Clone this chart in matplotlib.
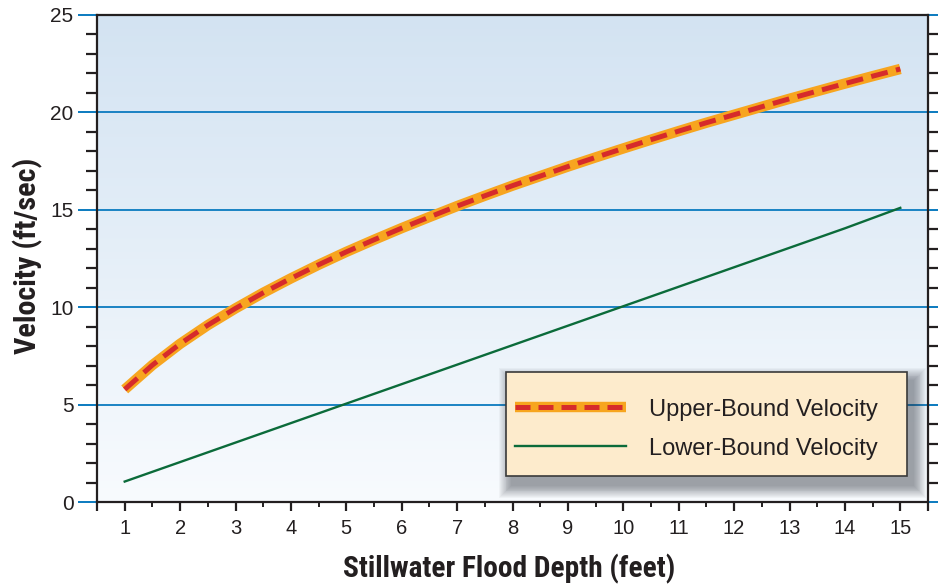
import matplotlib
matplotlib.use("Agg")
import matplotlib.pyplot as plt
import numpy as np
from matplotlib.lines import Line2D
from matplotlib.patches import Rectangle
from matplotlib.ticker import MultipleLocator, FixedLocator, FuncFormatter
from matplotlib.colors import LinearSegmentedColormap
from matplotlib import font_manager as fm

# ---- data ----
depth_upper = [1, 1.5, 2, 2.5, 3, 3.5, 4, 4.5, 5, 5.5, 6, 6.5, 7, 7.5, 8, 8.5, 9, 9.5,
               10, 10.5, 11, 11.5, 12, 12.5, 13, 13.5, 14, 14.5, 15]
upper_velocity = [5.78, 7.03, 8.12, 9.08, 9.94, 10.74, 11.48, 12.18, 12.84, 13.46, 14.06,
                  14.63, 15.19, 15.72, 16.24, 16.73, 17.22, 17.69, 18.15, 18.60, 19.04,
                  19.47, 19.88, 20.29, 20.70, 21.09, 21.48, 21.86, 22.23]
depth_lower = [1, 2, 3, 4, 5, 6, 7, 8, 9, 10, 11, 12, 13, 14, 15]
lower_velocity = [1.05, 2.05, 3.05, 4.05, 5.05, 6.05, 7.05, 8.05, 9.05, 10.05, 11.05,
                  12.05, 13.05, 14.05, 15.1]
x_ticks = [1, 2, 3, 4, 5, 6, 7, 8, 9, 10, 11, 12, 13, 14, 15]
y_ticks = [0, 5, 10, 15, 20, 25]
series_labels = ["Upper-Bound Velocity", "Lower-Bound Velocity"]
x_label = "Stillwater Flood Depth (feet)"
y_label = "Velocity (ft/sec)"

# ---- style ----
TXT = "#231f20"
BLUE = "#0a7abf"
ORANGE = "#f7a51f"
RED = "#d62b2b"
GREEN = "#0b6b3a"
plt.rcParams['font.family'] = ['Liberation Sans', 'DejaVu Sans']


def pick_condensed_bold():
    entries = fm.fontManager.ttflist

    def is_bold(e):
        w = e.weight
        if isinstance(w, (int, float)):
            return w >= 600
        return 'bold' in str(w).lower()

    def is_cond(e):
        s = e.stretch
        if isinstance(s, (int, float)) and s <= 600:
            return True
        s = str(s).lower()
        txt = (e.name + ' ' + e.fname).lower()
        return 'condensed' in s or 'narrow' in s or 'condensed' in txt or 'narrow' in txt

    for pref in ['Roboto Condensed', 'Liberation Sans Narrow', 'Noto Sans', 'Open Sans',
                 'DejaVu Sans', 'Roboto', 'Inter', 'Lato']:
        for e in entries:
            if (pref.lower() in e.name.lower() and is_bold(e) and is_cond(e)
                    and e.style == 'normal' and 'italic' not in e.fname.lower()
                    and 'mono' not in e.name.lower() and 'semi' not in e.fname.lower()
                    and 'extra' not in e.fname.lower()):
                return e.fname
    return None


cond = pick_condensed_bold()

fig = plt.figure(figsize=(9.38, 5.85), dpi=100)
ax = fig.add_axes([97/938, 83/585, 831/938, 487/585])
ax.set_xlim(0.5, 15.5)
ax.set_ylim(0, 25)

# gradient background
grad = np.linspace(0, 1, 256).reshape(-1, 1)
cmap = LinearSegmentedColormap.from_list("bg", ["#f8fbfe", "#d3e3f2"])
ax.imshow(grad, extent=[0, 1, 0, 1], transform=ax.transAxes, cmap=cmap,
          origin="lower", aspect="auto", zorder=0)

# grid
ax.yaxis.set_major_locator(FixedLocator(y_ticks))
ax.yaxis.set_minor_locator(MultipleLocator(1))
ax.grid(axis='y', which='major', color=BLUE, lw=1.3, zorder=1)
ax.set_axisbelow(True)

# lines
ax.plot(depth_upper, upper_velocity, color=ORANGE, lw=7.5, solid_capstyle='butt', zorder=3)
ax.plot(depth_upper, upper_velocity, color=RED, lw=3.6, dashes=(3.4, 1.7),
        dash_capstyle='butt', zorder=4)
ax.plot(depth_lower, lower_velocity, color=GREEN, lw=1.7, zorder=3)

# ticks
ax.xaxis.set_major_locator(FixedLocator([0.5] + x_ticks + [15.5]))
ax.xaxis.set_major_formatter(FuncFormatter(
    lambda v, p: str(int(v)) if float(v).is_integer() else ""))
ax.xaxis.set_minor_locator(FixedLocator([t + 0.5 for t in x_ticks[:-1]]))
ax.tick_params(axis='x', which='major', direction='out', length=6.5, width=1.6,
               color=TXT, labelsize=14.5, labelcolor=TXT, pad=6)
ax.tick_params(axis='x', which='minor', direction='out', length=3.5, width=1.4, color=TXT)
ax.tick_params(axis='y', which='major', direction='out', length=14, width=1.4,
               color=BLUE, labelsize=15, labelcolor=TXT, pad=3, left=True, right=True)
ax.tick_params(axis='y', which='minor', direction='out', length=8, width=1.6,
               color=TXT, left=True, right=True)
for sp in ax.spines.values():
    sp.set_color(TXT)
    sp.set_linewidth(1.6)
    sp.set_zorder(5)

# axis labels (condensed bold)
if cond:
    fpx = fm.FontProperties(fname=cond, size=20)
    fpy = fm.FontProperties(fname=cond, size=20)
else:
    fpx = fm.FontProperties(family='Liberation Sans', weight='bold', size=17)
    fpy = fm.FontProperties(family='Liberation Sans', weight='bold', size=17)
xl = ax.set_xlabel(x_label, fontproperties=fpx, color=TXT)
yl = ax.set_ylabel(y_label, fontproperties=fpy, color=TXT)
xl.set_va('center')
yl.set_va('center')
ax.xaxis.set_label_coords(0.496, -0.138)
ax.yaxis.set_label_coords(-0.083, 0.505)

# fit label sizes to the reference extents
fig.canvas.draw()
r = fig.canvas.get_renderer()
wx = xl.get_window_extent(r).width
hy = yl.get_window_extent(r).height
sx = min(1.35, 332.0 / wx)
sy = min(1.35, 196.0 / hy)
xl.set_fontsize(xl.get_fontsize() * sx)
yl.set_fontsize(yl.get_fontsize() * sy)

# legend frame with soft shadow
lx, ly, lw_, lh = 0.492, 0.053, 0.483, 0.214
px_x, px_y = 1 / 831, 1 / 487
n = 14
for i in range(n):
    g = (n - i) * 0.9
    ax.add_patch(Rectangle((lx + 6 * px_x - g * px_x, ly - 9 * px_y - g * px_y),
                           lw_ + 2 * g * px_x, lh + 2 * g * px_y,
                           transform=ax.transAxes, facecolor='#303540',
                           edgecolor='none', alpha=0.04, zorder=6))
ax.add_patch(Rectangle((lx, ly), lw_, lh, transform=ax.transAxes,
                       facecolor='#fdebcc', edgecolor='#3a3a3a', lw=1.2, zorder=7))

h_upper = (Line2D([], [], color=ORANGE, lw=7.5, solid_capstyle='butt'),
           Line2D([], [], color=RED, lw=3.6, dashes=(3.0, 1.6), dash_capstyle='butt'))
h_lower = Line2D([], [], color=GREEN, lw=1.7)
leg = ax.legend([h_upper, h_lower], series_labels, loc='center left',
                bbox_to_anchor=(lx - 10 * px_x, ly + lh / 2 - 5 * px_y), frameon=False,
                fontsize=17, handlelength=4.7, handletextpad=1.0, labelspacing=0.72,
                borderpad=0.3)
leg.set_zorder(8)
for t in leg.get_texts():
    t.set_color(TXT)

fig.savefig("out.png", dpi=100)
